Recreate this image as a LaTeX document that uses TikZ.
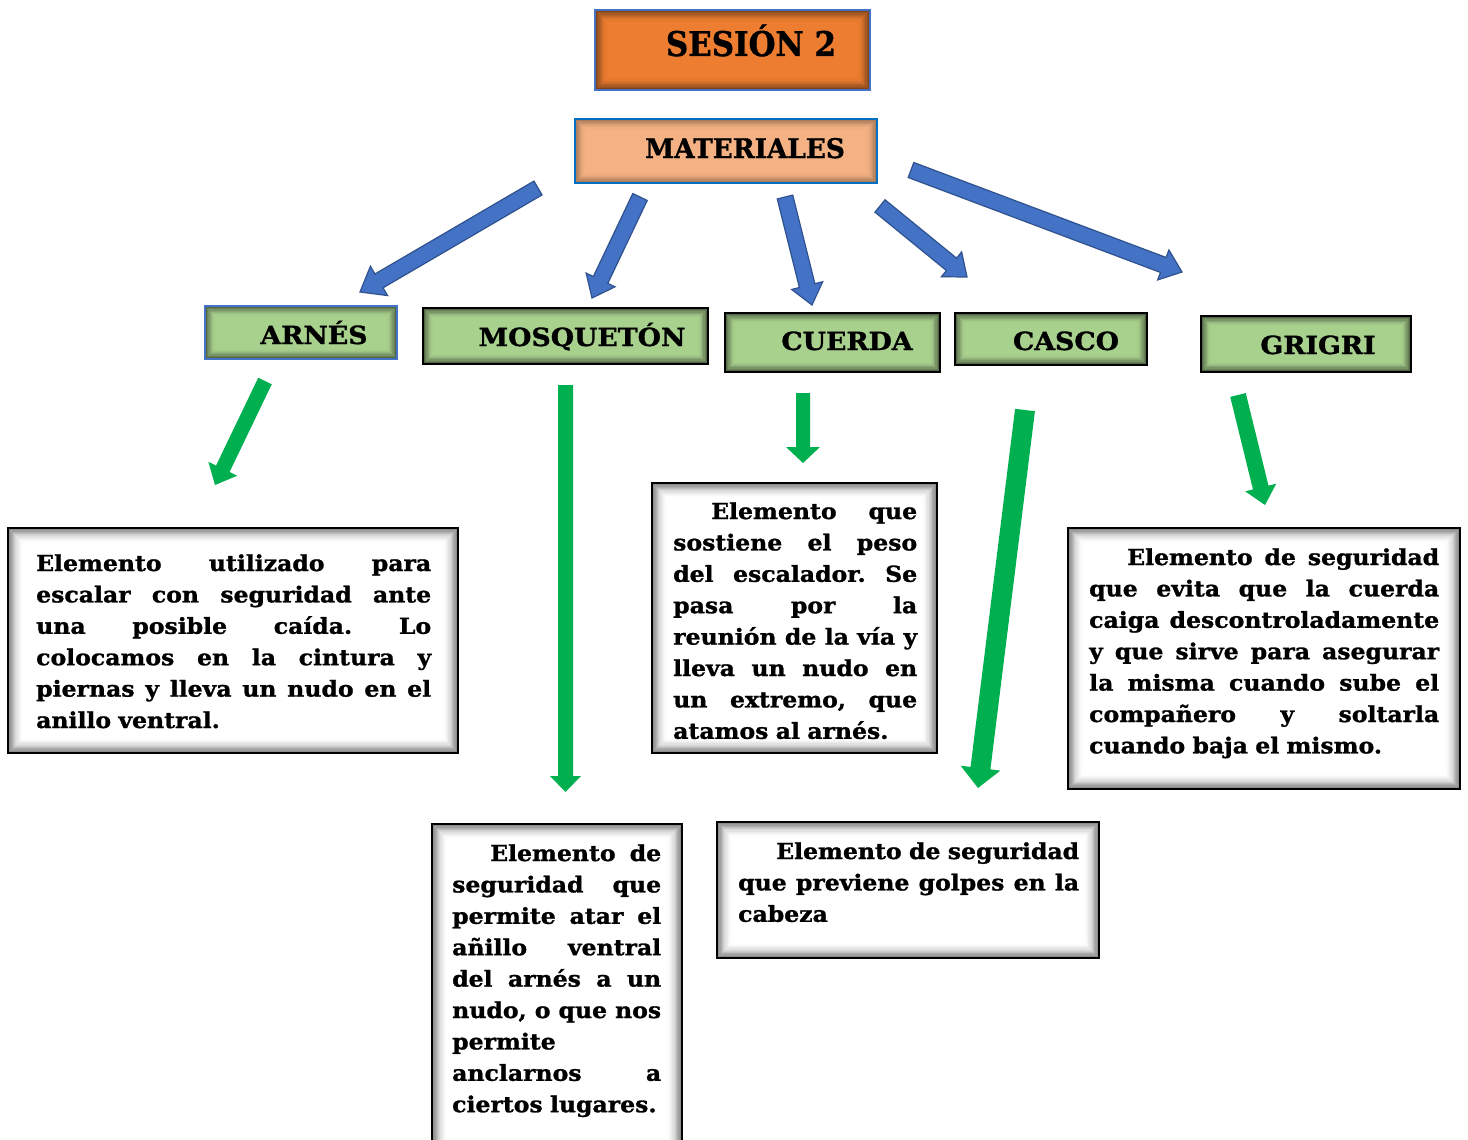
\documentclass[tikz,border=0pt]{standalone}
\usepackage{fontspec}
\setmainfont{DejaVu Serif}[BoldFeatures={FakeBold=1.2,FakeStretch=1.07}]
\usetikzlibrary{calc}
\frenchspacing
\definecolor{orng}{HTML}{ED7D31}
\definecolor{peach}{HTML}{F4B183}
\definecolor{lgreen}{HTML}{A9D18E}
\definecolor{blueA}{HTML}{4472C4}
\definecolor{blueB}{HTML}{0070C0}
\definecolor{blueD}{HTML}{2F528F}
\definecolor{grn}{HTML}{00B050}
\newcommand\jl[1]{\leavevmode\hbox to \hsize{\spaceskip=.32em plus 1fil\relax #1}}
\newcommand\jli[1]{\leavevmode\hbox to \hsize{\spaceskip=.32em plus 1fil\relax\hskip38pt #1}}
\newcommand\inshade[4]{% node, steps, max opacity, border half
  \foreach \k in {1,...,#2}{%
    \pgfmathsetmacro\op{#3*(1-(\k-1)/#2)^2}%
    \pgfmathsetmacro\dd{#4+(\k-0.5)*1.2}%
    \draw[black, opacity=\op, line width=1.2pt] ($(#1.north west)+(\dd,\dd)$) rectangle ($(#1.south east)-(\dd,\dd)$);}}
\newcommand\barrow[6]{% start, end, shaft half, head half, head length, style
  \coordinate (bh) at ($(#2)!#5!(#1)$);
  \path[#6] ($(#1)!#3!90:(#2)$) -- ($(bh)!#3!90:(#2)$) -- ($(bh)!#4!90:(#2)$) -- (#2)
    -- ($(bh)!#4!-90:(#2)$) -- ($(bh)!#3!-90:(#2)$) -- ($(#1)!#3!-90:(#2)$) -- cycle;}
\tikzset{
  x=1pt, y=-1pt,
  boxbase/.style={rectangle, inner sep=0pt, outer sep=0pt, anchor=north west},
  titlebox/.style={boxbase, fill=orng, draw=blueA, line width=2pt},
  matbox/.style={boxbase, fill=peach, draw=blueB, line width=2.5pt},
  lblbox/.style={boxbase, fill=lgreen, draw=black, line width=2pt},
  descbox/.style={boxbase, fill=white, draw=black, line width=2.5pt},
  lbl/.style={inner sep=0pt, anchor=base, font=\bfseries\fontsize{25}{28}\selectfont},
  desc/.style={inner sep=0pt, anchor=base west, font=\bfseries\fontsize{22}{31.4}\selectfont},
  barr/.style={fill=blueA, draw=blueD, line width=1.2pt, line join=miter},
  garr/.style={fill=grn},
}
\begin{document}
\begin{tikzpicture}
\useasboundingbox[fill=white] (0,0) rectangle (1468,1140);

% top boxes
\node[titlebox, minimum width=275pt, minimum height=80pt] (ses) at (595,10) {};
\inshade{ses}{10}{0.45}{1}
\node[lbl, font=\bfseries\fontsize{34}{38}\selectfont] (sest) at (751,56) {\scalebox{0.85}[1]{SESIÓN 2}};

\node[matbox, minimum width=302pt, minimum height=64pt] (mat) at (575,119) {};
\inshade{mat}{8}{0.3}{1.25}
\node[lbl, font=\bfseries\fontsize{27}{30}\selectfont] (matt) at (745,158) {\scalebox{0.91}[1]{MATERIALES}};

% label boxes
\node[lblbox, draw=blueA, minimum width=192pt, minimum height=53pt] (arn) at (205,306) {};
\inshade{arn}{8}{0.5}{1}
\node[lbl] (arnt) at (314,344) {ARNÉS};

\node[lblbox, minimum width=285pt, minimum height=56pt] (mos) at (423,308) {};
\inshade{mos}{8}{0.5}{1}
\node[lbl] (most) at (582,346) {MOSQUETÓN};

\node[lblbox, minimum width=215pt, minimum height=59pt] (cue) at (725,313) {};
\inshade{cue}{8}{0.5}{1}
\node[lbl] (cuet) at (847,350) {CUERDA};

\node[lblbox, minimum width=192pt, minimum height=52pt] (cas) at (955,313) {};
\inshade{cas}{8}{0.5}{1}
\node[lbl] (cast) at (1066,350) {CASCO};

\node[lblbox, minimum width=210pt, minimum height=56pt] (gri) at (1201,316) {};
\inshade{gri}{8}{0.5}{1}
\node[lbl] (grit) at (1318,354) {GRIGRI};

% description boxes
\node[descbox, minimum width=450pt, minimum height=225pt] (darn) at (8,528) {};
\inshade{darn}{12}{0.45}{1.25}
\node[desc, text width=395pt] (darnt) at (36,571) {%
\jl{Elemento utilizado para}\\
\jl{escalar con seguridad ante}\\
\jl{una posible caída. Lo}\\
\jl{colocamos en la cintura y}\\
\jl{piernas y lleva un nudo en el}\\
anillo ventral.};

\node[descbox, minimum width=250pt, minimum height=340pt] (dmos) at (432,824) {};
\inshade{dmos}{12}{0.45}{1.25}
\node[desc, text width=209pt] (dmost) at (452,861) {%
\jli{Elemento de}\\
\jl{seguridad que}\\
\jl{permite atar el}\\
\jl{añillo ventral}\\
\jl{del arnés a un}\\
\jl{nudo, o que nos}\\
permite\\
\jl{anclarnos a}\\
ciertos lugares.};

\node[descbox, minimum width=285pt, minimum height=270pt] (dcue) at (652,483) {};
\inshade{dcue}{12}{0.45}{1.25}
\node[desc, text width=244pt] (dcuet) at (673,519) {%
\jli{Elemento que}\\
\jl{sostiene el peso}\\
\jl{del escalador. Se}\\
\jl{pasa por la}\\
\jl{reunión de la vía y}\\
\jl{lleva un nudo en}\\
\jl{un extremo, que}\\
atamos al arnés.};

\node[descbox, minimum width=382pt, minimum height=136pt] (dcas) at (717,822) {};
\inshade{dcas}{12}{0.45}{1.25}
\node[desc, text width=341pt] (dcast) at (738,859) {%
\jli{Elemento de seguridad}\\
\jl{que previene golpes en la}\\
cabeza};

\node[descbox, minimum width=392pt, minimum height=261pt] (dgri) at (1068,528) {};
\inshade{dgri}{12}{0.45}{1.25}
\node[desc, text width=350pt] (dgrit) at (1089,565) {%
\jli{Elemento de seguridad}\\
\jl{que evita que la cuerda}\\
\jl{caiga descontroladamente}\\
\jl{y que sirve para asegurar}\\
\jl{la misma cuando sube el}\\
\jl{compañero y soltarla}\\
cuando baja el mismo.};

% blue arrows
\coordinate (b1s) at (538,188); \coordinate (b1e) at (360,292);
\coordinate (b2s) at (640,197); \coordinate (b2e) at (592,298);
\coordinate (b3s) at (785,197); \coordinate (b3e) at (812,305);
\coordinate (b4s) at (880,206); \coordinate (b4e) at (967,277);
\coordinate (b5s) at (911,170); \coordinate (b5e) at (1182,272);
\barrow{b1s}{b1e}{8pt}{17pt}{22pt}{barr}
\barrow{b2s}{b2e}{8pt}{16pt}{20pt}{barr}
\barrow{b3s}{b3e}{8pt}{16pt}{20pt}{barr}
\barrow{b4s}{b4e}{8pt}{16pt}{20pt}{barr}
\barrow{b5s}{b5e}{8pt}{16pt}{20pt}{barr}

% green arrows
\coordinate (g1s) at (265,381); \coordinate (g1e) at (215,485);
\coordinate (g2s) at (565.5,385); \coordinate (g2e) at (565.5,792);
\coordinate (g3s) at (803,393); \coordinate (g3e) at (803,463);
\coordinate (g4s) at (1025,410); \coordinate (g4e) at (978,788);
\coordinate (g5s) at (1238,395); \coordinate (g5e) at (1265,505);
\barrow{g1s}{g1e}{7.5pt}{16pt}{18pt}{garr}
\barrow{g2s}{g2e}{7.5pt}{15.5pt}{16pt}{garr}
\barrow{g3s}{g3e}{7pt}{17pt}{16pt}{garr}
\barrow{g4s}{g4e}{10pt}{20pt}{20pt}{garr}
\barrow{g5s}{g5e}{8pt}{16pt}{18pt}{garr}
\end{tikzpicture}
\end{document}
